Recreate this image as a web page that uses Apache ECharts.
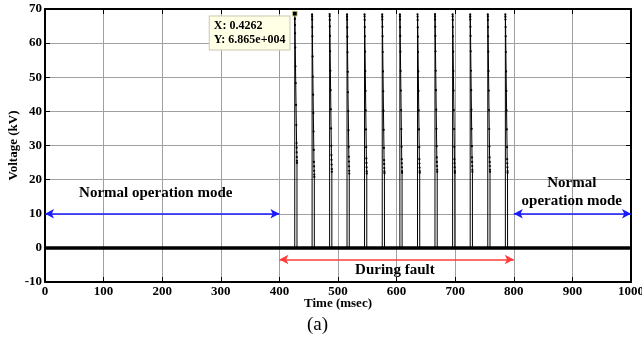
<!DOCTYPE html>
<html>
<head>
<meta charset="utf-8">
<script src="https://cdn.jsdelivr.net/npm/echarts@6/dist/echarts.min.js"></script>
<style>
  html, body { margin: 0; padding: 0; background: #fff; }
  #chart-container { width: 642px; height: 343px; }
</style>
</head>
<body>
<div id="chart-container"></div>
<script>
// time axis (ms) and voltage axis (kV)
const timeRange = [0, 1000];
const voltRange = [-10, 70];

// flat 0 kV trace across the whole record
const baseline = [[0, 0], [1000, 0]];

// fault pulses [time ms, voltage kV]
const trace = [
  [0, 0],
  [426.2,0],[426.2,68.65],[426.3,68.0],[426.4,67.1],[426.6,65.3],[426.8,62.9],[427.1,58.7],[427.5,53.2],[427.9,48.3],[428.4,41.9],[428.9,36.0],[429.3,30.7],[429.5,29.4],[429.6,28.0],[429.8,26.6],[429.9,25.5],[430.0,24.9],[430.0,0],
  [455.8,0],[455.8,68.4],[455.9,67.8],[456.0,66.9],[456.2,64.7],[456.4,62.0],[456.7,56.1],[457.1,50.2],[457.5,44.9],[457.9,39.5],[458.3,34.1],[458.7,28.7],[458.9,25.2],[459.1,23.9],[459.3,22.6],[459.5,21.5],[459.6,20.8],[459.6,0],
  [485.7,0],[485.7,68.5],[485.8,67.9],[485.9,66.8],[486.1,64.9],[486.3,62.1],[486.6,57.6],[487.0,51.9],[487.4,46.2],[487.8,40.6],[488.2,35.0],[488.6,29.9],[488.8,27.2],[489.0,25.8],[489.2,24.4],[489.4,23.1],[489.5,22.3],[489.5,0],
  [515.4,0],[515.4,68.4],[515.5,67.7],[515.6,66.9],[515.8,64.6],[516.0,61.9],[516.3,57.3],[516.7,51.6],[517.0,45.6],[517.5,40.1],[517.9,34.5],[518.3,29.6],[518.5,26.7],[518.7,25.3],[518.9,23.9],[519.1,22.6],[519.2,21.8],[519.2,0],
  [545.3,0],[545.3,68.4],[545.4,67.8],[545.5,66.8],[545.7,64.7],[545.9,62.0],[546.2,57.5],[546.6,51.8],[547.0,46.0],[547.4,40.3],[547.8,34.7],[548.2,29.5],[548.4,26.2],[548.6,24.9],[548.8,23.6],[549.0,22.4],[549.1,21.8],[549.1,0],
  [575.5,0],[575.5,68.4],[575.6,67.7],[575.7,66.9],[575.9,64.8],[576.1,62.0],[576.4,57.4],[576.8,51.7],[577.2,45.9],[577.6,40.2],[578.0,34.6],[578.4,29.3],[578.6,25.7],[578.8,24.6],[579.0,23.4],[579.2,22.4],[579.3,21.9],[579.3,0],
  [605.6,0],[605.6,68.4],[605.7,67.8],[605.8,66.9],[606.0,64.7],[606.2,62.1],[606.5,57.5],[606.9,51.8],[607.3,46.1],[607.7,40.4],[608.1,34.8],[608.5,29.6],[608.7,26.0],[608.9,24.8],[609.1,23.6],[609.3,22.5],[609.4,22.0],[609.4,0],
  [635.7,0],[635.7,68.4],[635.8,67.7],[635.9,66.8],[636.1,64.6],[636.3,61.9],[636.6,57.4],[637.0,51.7],[637.4,46.0],[637.8,40.3],[638.2,34.7],[638.6,29.5],[638.8,26.0],[639.0,24.7],[639.2,23.5],[639.4,22.5],[639.5,22.0],[639.5,0],
  [665.5,0],[665.5,68.5],[665.6,67.8],[665.7,66.9],[665.9,64.8],[666.1,62.1],[666.4,57.6],[666.8,51.9],[667.2,46.2],[667.6,40.5],[668.0,34.9],[668.4,29.8],[668.6,26.5],[668.8,25.2],[669.0,24.0],[669.2,22.9],[669.3,22.3],[669.3,0],
  [695.6,0],[695.6,68.4],[695.7,67.8],[695.8,66.8],[696.0,64.7],[696.2,62.0],[696.5,57.5],[696.9,51.8],[697.3,46.1],[697.7,40.4],[698.1,34.8],[698.5,29.6],[698.7,26.0],[698.9,24.8],[699.1,23.6],[699.3,22.5],[699.4,22.0],[699.4,0],
  [725.6,0],[725.6,68.4],[725.7,67.7],[725.8,66.9],[726.0,64.8],[726.2,62.1],[726.5,57.6],[726.9,51.9],[727.3,46.2],[727.7,40.5],[728.1,34.9],[728.5,29.8],[728.7,26.5],[728.9,25.2],[729.1,24.0],[729.3,22.9],[729.4,22.3],[729.4,0],
  [755.6,0],[755.6,68.4],[755.7,67.8],[755.8,66.8],[756.0,64.7],[756.2,62.0],[756.5,57.5],[756.9,51.8],[757.3,46.1],[757.7,40.4],[758.1,34.8],[758.5,29.7],[758.7,26.5],[758.9,25.2],[759.1,24.0],[759.3,22.9],[759.4,22.3],[759.4,0],
  [785.6,0],[785.6,68.4],[785.7,67.7],[785.8,66.9],[786.0,64.7],[786.2,62.0],[786.5,57.4],[786.9,51.7],[787.3,46.0],[787.7,40.3],[788.1,34.7],[788.5,29.5],[788.7,26.0],[788.9,24.8],[789.1,23.6],[789.3,22.5],[789.4,22.0],[789.4,0],
  [1000, 0]
];

// data tip on the first peak
const tipPoint = [426.2, 68.65];
const tipText = 'X: 0.4262\nY: 6.865e+004';

// region arrows and their labels
const normalLeft = [[0, 10], [400, 10]];
const normalRight = [[800, 10], [1000, 10]];
const faultSpan = [[400, -3.4], [800, -3.4]];
const labelLeft = {text: 'Normal operation mode', at: [189, 15.9]};
const labelRight = {text: 'Normal\noperation mode', at: [899, 16.2]};
const labelFault = {text: 'During fault', at: [597, -6.4]};

const serif = '"Liberation Serif", "Times New Roman", serif';

var chartDom = document.getElementById('chart-container');
var myChart = echarts.init(chartDom);
var option;

const textPoint = (l) => ({
    coord: l.at,
    symbol: 'circle',
    symbolSize: 0,
    label: {
        show: true,
        position: 'inside',
        formatter: l.text,
        color: '#000',
        fontFamily: serif,
        fontWeight: 'bold',
        fontSize: 15,
        lineHeight: 18,
        align: 'center'
    }
});

option = {
    animation: false,
    backgroundColor: '#fff',
    grid: {
        left: 45,
        right: 11,
        top: 9,
        bottom: 61,
        containLabel: false,
        outerBoundsMode: 'none'
    },
    xAxis: [
        {
            type: 'value',
            min: timeRange[0],
            max: timeRange[1],
            interval: 100,
            name: 'Time (msec)',
            nameLocation: 'middle',
            nameGap: 15,
            nameMoveOverlap: false,
            nameTextStyle: {color: '#000', fontFamily: serif, fontWeight: 'bold', fontSize: 13},
            axisLine: {onZero: false, lineStyle: {color: '#000', width: 2}},
            axisTick: {inside: true, length: 5, lineStyle: {color: '#000', width: 1}},
            axisLabel: {color: '#000', fontFamily: serif, fontWeight: 'bold', fontSize: 13, margin: 3, hideOverlap: false, formatter: (v) => String(v)},
            splitLine: {show: true, lineStyle: {color: '#a0a0a0', width: 1}}
        },
        {
            type: 'value',
            position: 'top',
            min: timeRange[0],
            max: timeRange[1],
            interval: 100,
            axisLine: {onZero: false, lineStyle: {color: '#000', width: 2}},
            axisTick: {inside: true, length: 5, lineStyle: {color: '#000', width: 1}},
            axisLabel: {show: false},
            splitLine: {show: false}
        }
    ],
    yAxis: [
        {
            type: 'value',
            min: voltRange[0],
            max: voltRange[1],
            interval: 10,
            name: 'Voltage (kV)',
            nameLocation: 'middle',
            nameGap: 25,
            nameMoveOverlap: false,
            nameTextStyle: {color: '#000', fontFamily: serif, fontWeight: 'bold', fontSize: 13},
            axisLine: {onZero: false, lineStyle: {color: '#000', width: 2}},
            axisTick: {inside: true, length: 5, lineStyle: {color: '#000', width: 1}},
            axisLabel: {color: '#000', fontFamily: serif, fontWeight: 'bold', fontSize: 13, margin: 3},
            splitLine: {show: true, lineStyle: {color: '#a0a0a0', width: 1}}
        },
        {
            type: 'value',
            position: 'right',
            min: voltRange[0],
            max: voltRange[1],
            interval: 10,
            axisLine: {onZero: false, lineStyle: {color: '#000', width: 2}},
            axisTick: {inside: true, length: 5, lineStyle: {color: '#000', width: 1}},
            axisLabel: {show: false},
            splitLine: {show: false}
        }
    ],
    series: [
        {
            name: 'baseline',
            type: 'line',
            data: baseline,
            showSymbol: false,
            lineStyle: {color: '#000', width: 3.5},
            z: 3,
            markLine: {
                silent: true,
                symbol: ['arrow', 'arrow'],
                symbolSize: [7, 9],
                label: {show: false},
                data: [
                    [{coord: normalLeft[0], lineStyle: {color: '#1a1aff', width: 1.5, type: 'solid'}}, {coord: normalLeft[1]}],
                    [{coord: normalRight[0], lineStyle: {color: '#1a1aff', width: 1.5, type: 'solid'}}, {coord: normalRight[1]}],
                    [{coord: faultSpan[0], lineStyle: {color: '#ff3b3b', width: 1.5, type: 'solid'}}, {coord: faultSpan[1]}]
                ]
            },
            markPoint: {
                silent: true,
                data: [textPoint(labelLeft), textPoint(labelRight), textPoint(labelFault)]
            }
        },
        {
            name: 'voltage',
            type: 'line',
            data: trace,
            showSymbol: true,
            symbol: 'circle',
            symbolSize: 2.2,
            itemStyle: {color: '#000'},
            lineStyle: {color: '#000', width: 1},
            z: 4,
            markPoint: {
                silent: true,
                z: 10,
                data: [{
                    coord: tipPoint,
                    symbol: 'rect',
                    symbolSize: 5,
                    itemStyle: {color: '#000', borderColor: '#e8e8a0', borderWidth: 1},
                    label: {
                        show: true,
                        position: [-82, 6],
                        formatter: tipText,
                        color: '#000',
                        fontFamily: serif,
                        fontWeight: 'bold',
                        fontSize: 12,
                        lineHeight: 13.5,
                        backgroundColor: '#ffffe6',
                        borderColor: '#c8c8b4',
                        borderWidth: 1,
                        padding: [3, 4, 3, 4]
                    }
                }]
            }
        }
    ],
    graphic: [
        {
            type: 'text',
            left: 307,
            top: 316,
            style: {text: '(a)', font: '19px ' + serif, fill: '#000'}
        }
    ]
};

option && myChart.setOption(option);
</script>
</body>
</html>
